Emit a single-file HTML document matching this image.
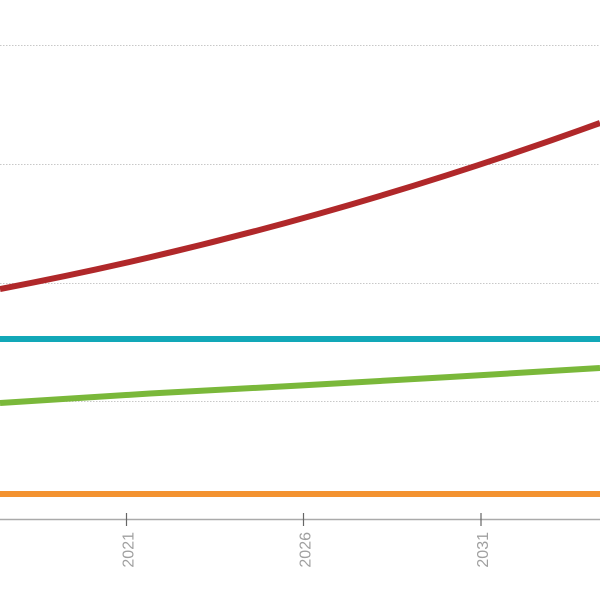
<!DOCTYPE html>
<html>
<head>
<meta charset="utf-8">
<style>
  html, body { margin:0; padding:0; background:#fff; }
  svg { display:block; }
</style>
</head>
<body>
<svg width="600" height="600" viewBox="0 0 600 600" xmlns="http://www.w3.org/2000/svg">
  <rect width="600" height="600" fill="#ffffff"/>
  <!-- gridlines -->
  <g stroke="#c8c8c8" stroke-width="1" stroke-dasharray="1.5,1.5" fill="none">
    <line x1="0" y1="45.5" x2="600" y2="45.5"/>
    <line x1="0" y1="164.5" x2="600" y2="164.5"/>
    <line x1="0" y1="283.5" x2="600" y2="283.5"/>
    <line x1="0" y1="401.5" x2="600" y2="401.5"/>
  </g>
  <!-- x axis -->
  <line x1="0" y1="519.5" x2="600" y2="519.5" stroke="#aaaaaa" stroke-width="1.5"/>
  <g stroke="#666666" stroke-width="1.2">
    <line x1="126.5" y1="513" x2="126.5" y2="526"/>
    <line x1="303.5" y1="513" x2="303.5" y2="526"/>
    <line x1="481" y1="513" x2="481" y2="526"/>
  </g>
  <g font-family="Liberation Sans, sans-serif" font-size="16" fill="#a0a0a0" text-anchor="end">
    <text transform="translate(133.3,532) rotate(-90)">2021</text>
    <text transform="translate(310.3,532) rotate(-90)">2026</text>
    <text transform="translate(487.8,532) rotate(-90)">2031</text>
  </g>
  <!-- series -->
  <line x1="0" y1="494" x2="600" y2="494" stroke="#f39230" stroke-width="6"/>
  <line x1="0" y1="339" x2="600" y2="339" stroke="#12a8b8" stroke-width="6"/>
  <polyline points="0,403 150,393.5 300,385.5 450,377 600,368" fill="none" stroke="#7ab83a" stroke-width="6" stroke-linejoin="round"/>
  <path d="M0,289 Q300,232 600,123" fill="none" stroke="#b0282a" stroke-width="6"/>
</svg>
</body>
</html>
